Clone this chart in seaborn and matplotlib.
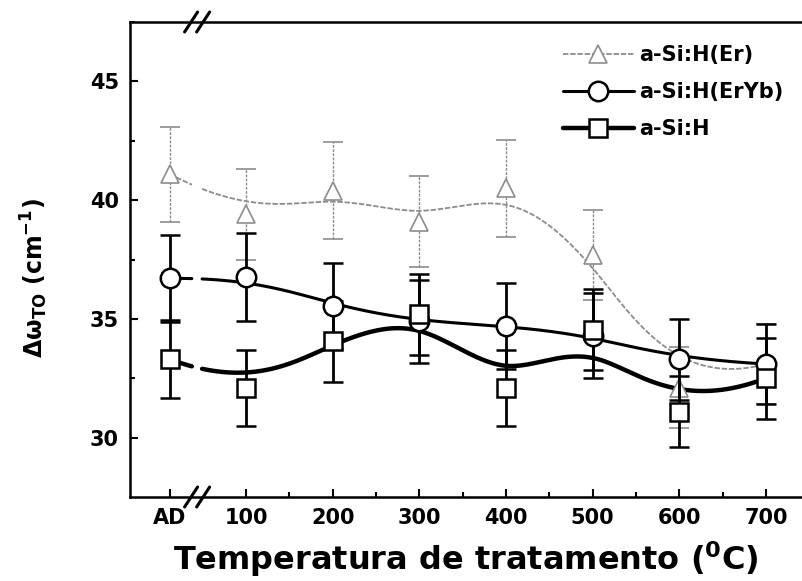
import numpy as np
import pandas as pd
import seaborn as sns
import matplotlib.pyplot as plt
from matplotlib.lines import Line2D

# data
x_labels = ["AD", "100", "200", "300", "400", "500", "600", "700"]
temps = [100, 200, 300, 400, 500, 600, 700]
ad_pos = 12  # where "AD" sits on the broken axis

er_y = [41.1, 39.4, 40.4, 39.1, 40.5, 37.7, 32.1, 33.1]
er_err = [2.0, 1.9, 2.05, 1.9, 2.05, 1.9, 1.7, 1.7]
eryb_y = [36.7, 36.75, 35.55, 34.9, 34.7, 34.3, 33.3, 33.1]
eryb_err = [1.85, 1.85, 1.8, 1.75, 1.8, 1.8, 1.7, 1.7]
sih_y = [33.3, 32.1, 34.05, 35.2, 32.1, 34.55, 31.1, 32.5]
sih_err = [1.65, 1.6, 1.7, 1.7, 1.6, 1.7, 1.5, 1.7]

labels = ["a-Si:H(Er)", "a-Si:H(ErYb)", "a-Si:H"]


def bspline(xs, ys, n=400):
    # clamped cubic B-spline using the points as control points
    P = np.column_stack([xs, ys])
    m = len(P)
    k = 3
    knots = np.concatenate([[0] * (k + 1), np.arange(1, m - k), [m - k] * (k + 1)]).astype(float)
    t = np.linspace(0, m - k, n)
    t[-1] -= 1e-9
    N = np.zeros((n, len(knots) - 1))
    for i in range(len(knots) - 1):
        N[:, i] = (t >= knots[i]) & (t < knots[i + 1])
    for d in range(1, k + 1):
        Nn = np.zeros((n, len(knots) - 1 - d))
        for i in range(len(knots) - 1 - d):
            a = knots[i + d] - knots[i]
            b = knots[i + d + 1] - knots[i + 1]
            left = (t - knots[i]) / a * N[:, i] if a > 0 else 0
            right = (knots[i + d + 1] - t) / b * N[:, i + 1] if b > 0 else 0
            Nn[:, i] = left + right
        N = Nn
    C = N @ P
    return C[:, 0], C[:, 1]


xpos = [ad_pos] + temps
gap = (39, 47)  # axis break: curves are interrupted here

sns.set_style("ticks")
plt.rcParams["font.family"] = ["DejaVu Sans"]
plt.rcParams["font.weight"] = "bold"
plt.rcParams["mathtext.fontset"] = "custom"
plt.rcParams["mathtext.rm"] = "DejaVu Sans:bold"
plt.rcParams["mathtext.it"] = "DejaVu Sans:bold:italic"
plt.rcParams["mathtext.bf"] = "DejaVu Sans:bold"
plt.rcParams["mathtext.default"] = "rm"
for key in ["text.color", "axes.labelcolor", "xtick.color", "ytick.color", "axes.edgecolor"]:
    plt.rcParams[key] = "black"

fig = plt.figure(figsize=(8.02, 5.81), dpi=100)
ax = fig.add_axes([130 / 802, 1 - 497 / 581, 672 / 802, 475 / 581])

series = [
    (er_y, er_err, "^", "#8c8c8c", 1.3, (0, (3, 1)), 13.5),
    (eryb_y, eryb_err, "o", "black", 2.2, "-", 14),
    (sih_y, sih_err, "s", "black", 3.2, "-", 12.5),
]

handles = []
for (ys, errs, mk, col, lw, ls, ms), lab in zip(series, labels):
    cx, cy = bspline(xpos, ys)
    seg = np.where(cx < gap[0], 0, 1)
    keep = (cx < gap[0]) | (cx > gap[1])
    curve = pd.DataFrame({"x": cx[keep], "y": cy[keep], "seg": seg[keep]})
    sns.lineplot(data=curve, x="x", y="y", units="seg", estimator=None, sort=False,
                 color=col, lw=lw, linestyle=ls, ax=ax, zorder=2)
    if mk == "^":
        eb = ax.errorbar(xpos, ys, yerr=errs, fmt=mk, ms=ms, mfc="white", mec=col, mew=1.2,
                         ecolor=col, elinewidth=1.0, capsize=7, capthick=1.2, zorder=3)
        for bar in eb[2]:
            bar.set_linestyle((0, (2, 1)))
    else:
        ax.errorbar(xpos, ys, yerr=errs, fmt=mk, ms=ms, mfc="white", mec=col, mew=1.8,
                    ecolor=col, elinewidth=2.0, capsize=7, capthick=2.5, zorder=4)
    handles.append(Line2D([], [], color=col, lw=lw, linestyle=ls, marker=mk, ms=ms,
                          mfc="white", mec=col, mew=1.2 if mk == "^" else 1.8))

ax.set_xlim(-34, 741.6)
ax.set_ylim(27.5, 47.5)
ax.set_xticks(xpos)
ax.set_xticklabels(x_labels)
ax.set_xticks([150, 250, 350, 450, 550, 650], minor=True)
ax.set_yticks([30, 35, 40, 45])
ax.set_yticks([32.5, 37.5, 42.5, 47.5], minor=True)
ax.tick_params(which="both", direction="in", width=1.5, labelsize=15, pad=8, colors="black")
ax.tick_params(which="major", length=6)
ax.tick_params(which="minor", length=3.5)
ax.tick_params(top=False, right=False)
for s in ["left", "bottom", "top"]:
    ax.spines[s].set_linewidth(1.8)
    ax.spines[s].set_color("black")
ax.spines["right"].set_visible(False)
for t in ax.get_xticklabels() + ax.get_yticklabels():
    t.set_fontweight("bold")

# axis break marks
tr = ax.get_xaxis_transform()
for yb in (0, 1):
    for xb in (36.5, 50.4):
        ax.plot([xb - 7.5, xb + 7.5], [yb - 0.021, yb + 0.021], color="black", lw=2.2,
                transform=tr, clip_on=False, zorder=6)

ax.set_xlabel("Temperatura de tratamento ($^{0}$C)", fontsize=23, fontweight="bold", labelpad=8)
ax.set_ylabel(r"Δω$_{TO}$ (cm$^{-1}$)", fontsize=17, fontweight="bold")
ax.yaxis.set_label_coords(-0.119, 0.461)

ax.legend(handles, labels, loc="upper left", bbox_to_anchor=(563 / 802, 1 - 45 / 581),
          bbox_transform=fig.transFigure, frameon=False, handlelength=3.4,
          handletextpad=0.25, labelspacing=0.82, borderpad=0, borderaxespad=0,
          prop={"weight": "bold", "size": 15})

plt.savefig("out.png", dpi=100)
